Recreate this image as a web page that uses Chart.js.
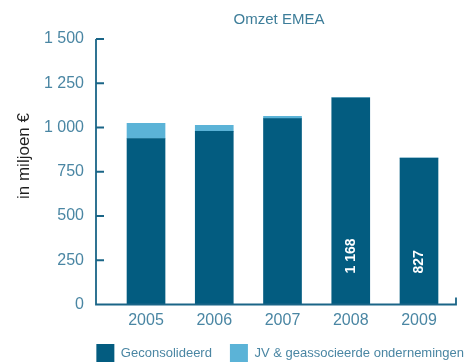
<!DOCTYPE html>
<html lang="nl">
<head>
<meta charset="UTF-8">
<title>Omzet EMEA</title>
<script src="https://cdn.jsdelivr.net/npm/chart.js@4.4.0/dist/chart.umd.min.js"></script>
<style>
*{margin:0;padding:0;box-sizing:border-box}
body{background:#fff;width:474px;height:363px;overflow:hidden}
.cw{position:relative;width:474px;height:363px}
</style>
</head>
<body>
<div class="cw"><canvas id="omzet"></canvas></div>
<script>
const years = [2005, 2006, 2007, 2008, 2009];
const geconsolideerd = [938, 978, 1050, 1168, 827];
const jvGeassocieerd = [86, 34, 13, 0, 0];
const yTicks = [0, 250, 500, 750, 1000, 1250, 1500];

const dark = "#035c80", light = "#5bb3d7";
const axisColor = "#1a6587", labelColor = "#4a86a3";
const font = "'Liberation Sans', Arial, sans-serif";

// 1168 -> "1 168"
const fmt = v => String(v).replace(/\B(?=(\d{3})+(?!\d))/g, " ");

// assen, titels en waardelabels in de balken
const decor = {
  id: "decor",
  afterDraw(chart) {
    const { ctx, chartArea: a, scales: { x, y } } = chart;
    const left = a.left, bottom = y.getPixelForValue(0), right = left + 360;
    ctx.save();
    ctx.strokeStyle = axisColor;
    ctx.lineWidth = 1.8;
    ctx.beginPath();
    ctx.moveTo(left, y.getPixelForValue(yTicks[yTicks.length - 1]));
    ctx.lineTo(left, bottom);
    ctx.lineTo(right, bottom);
    ctx.lineTo(right, bottom - 7);
    yTicks.forEach(t => {
      const py = y.getPixelForValue(t);
      ctx.moveTo(left, py);
      ctx.lineTo(left + 8, py);
    });
    ctx.stroke();

    ctx.fillStyle = "#3d7d99";
    ctx.font = "15px " + font;
    ctx.textAlign = "center";
    ctx.textBaseline = "middle";
    ctx.fillText("Omzet EMEA", (left + right) / 2 + 3, 20);

    ctx.fillStyle = "#1e1e1e";
    ctx.font = "17px " + font;
    ctx.translate(24, 156);
    ctx.rotate(-Math.PI / 2);
    ctx.fillText("in miljoen €", 0, 0);
    ctx.setTransform(1, 0, 0, 1, 0, 0);

    ctx.fillStyle = "#fff";
    ctx.font = "bold 14px " + font;
    ctx.textAlign = "left";
    const meta = chart.getDatasetMeta(0);
    geconsolideerd.forEach((v, i) => {
      if (jvGeassocieerd[i] !== 0) return;
      const bar = meta.data[i];
      ctx.save();
      ctx.translate(bar.x, bottom - 31);
      ctx.rotate(-Math.PI / 2);
      ctx.fillText(fmt(v), 0, 0);
      ctx.restore();
    });
    ctx.restore();
  }
};

new Chart(document.getElementById("omzet"), {
  type: "bar",
  data: {
    labels: years,
    datasets: [
      { label: "Geconsolideerd", data: geconsolideerd, backgroundColor: dark, barThickness: 38 },
      { label: "JV & geassocieerde ondernemingen", data: jvGeassocieerd, backgroundColor: light, barThickness: 38 }
    ]
  },
  options: {
    responsive: true, maintainAspectRatio: false, animation: false,
    layout: { padding: { top: 39, left: 0, right: -8, bottom: -9 } },
    plugins: {
      legend: {
        position: "bottom", align: "end",
        labels: { boxWidth: 18, boxHeight: 18, padding: 18, color: labelColor, font: { family: font, size: 13 } }
      },
      tooltip: { enabled: false }
    },
    scales: {
      x: {
        type: "linear", stacked: true, offset: false,
        min: 2004.267, max: 2009.806,
        afterBuildTicks: s => { s.ticks = years.map(v => ({ value: v })); },
        afterFit: s => { s.height = 21.5; },
        grid: { display: false, drawTicks: false }, border: { display: false },
        ticks: { padding: 6, color: labelColor, font: { family: font, size: 16 }, callback: v => String(v), maxRotation: 0 }
      },
      y: {
        stacked: true, min: 0, max: 1500,
        afterFit: s => { s.width = 96; },
        afterBuildTicks: s => { s.ticks = yTicks.map(v => ({ value: v })); },
        grid: { display: false, drawTicks: false }, border: { display: false },
        ticks: { padding: 12, color: labelColor, font: { family: font, size: 16 }, callback: v => fmt(v) }
      }
    }
  },
  plugins: [decor]
});
</script>
</body>
</html>
